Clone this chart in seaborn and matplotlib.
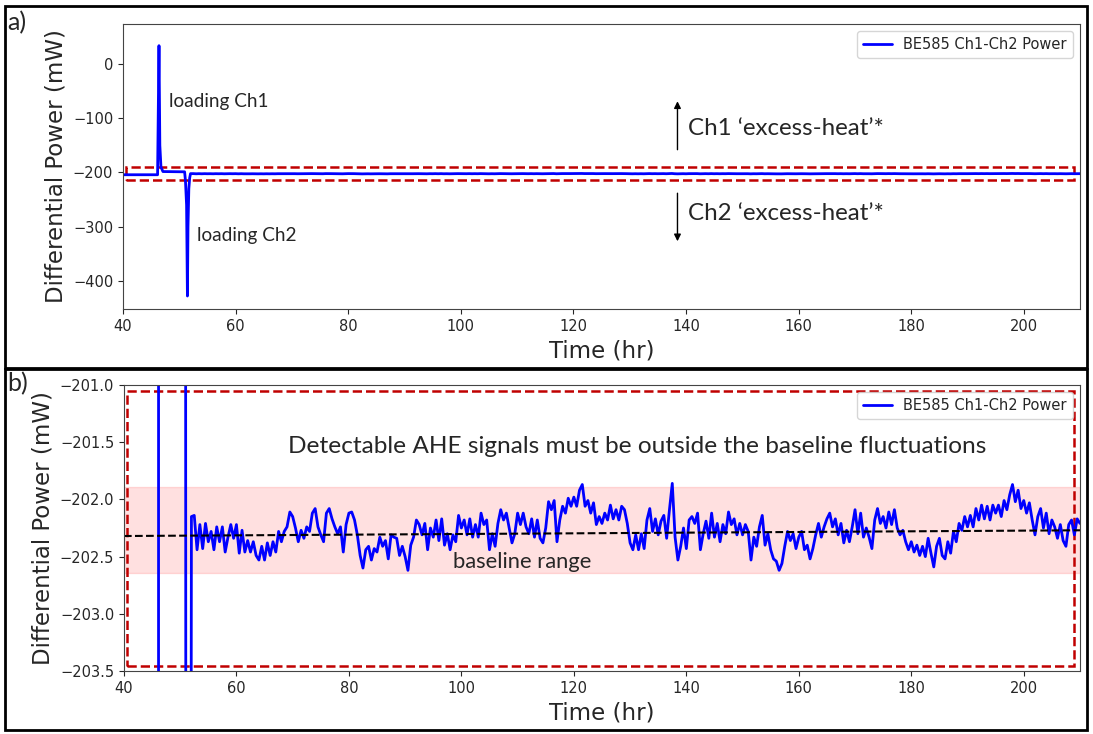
import numpy as np
import pandas as pd
import seaborn as sns
import matplotlib.pyplot as plt
from matplotlib.patches import Rectangle

# start of run: loading spikes (hr, mW)
start_hr = [40.0, 46.15, 46.4, 46.55, 46.75, 47.1, 50.95, 51.1, 51.3, 51.45, 51.55, 51.7, 51.85, 51.95]
start_mw = [-204.2, -204.2, 34.0, -150.0, -190.0, -198.3, -198.8, -215.0, -260.0, -428.0, -300.0, -230.0, -210.0, -204.0]

# baseline trace read every 0.5 hr from 52 hr on
base_start = 52.0
base_step = 0.5
base_mw = [
    -202.15, -202.14, -202.44, -202.22, -202.43, -202.21, -202.37, -202.28, -202.44, -202.24,
    -202.37, -202.24, -202.46, -202.33, -202.22, -202.34, -202.22, -202.47, -202.27, -202.46,
    -202.36, -202.46, -202.37, -202.49, -202.53, -202.41, -202.53, -202.38, -202.49, -202.37,
    -202.46, -202.28, -202.37, -202.28, -202.24, -202.11, -202.15, -202.25, -202.37, -202.27,
    -202.34, -202.24, -202.28, -202.12, -202.08, -202.24, -202.31, -202.37, -202.12, -202.08,
    -202.17, -202.24, -202.30, -202.24, -202.46, -202.22, -202.12, -202.11, -202.18, -202.31,
    -202.49, -202.60, -202.44, -202.41, -202.53, -202.43, -202.46, -202.33, -202.41, -202.36,
    -202.52, -202.31, -202.33, -202.34, -202.49, -202.41, -202.50, -202.62,
    # 91 hr
    -202.40, -202.33, -202.18, -202.22, -202.31, -202.21, -202.44, -202.25, -202.33, -202.18,
    -202.36, -202.17, -202.40, -202.30, -202.44, -202.31, -202.37, -202.14, -202.25, -202.18,
    -202.31, -202.17, -202.33, -202.22, -202.33, -202.12, -202.22, -202.18, -202.44, -202.30,
    -202.41, -202.21, -202.09, -202.18, -202.12, -202.25, -202.38, -202.30, -202.12, -202.22,
    -202.12, -202.24, -202.30, -202.17, -202.33, -202.18, -202.34, -202.38, -202.25, -202.02,
    -202.09, -202.01, -202.37, -202.18, -202.06, -202.12, -201.99, -202.06, -201.98, -202.06,
    -201.92, -201.87, -202.06, -202.01, -202.12, -202.03, -202.22, -202.15, -202.21, -202.12,
    -202.18, -202.05, -202.17, -202.09, -202.18, -202.06,
    # 129 hr
    -202.09, -202.21, -202.38, -202.44, -202.31, -202.44, -202.30, -202.43, -202.18, -202.08,
    -202.28, -202.17, -202.31, -202.19, -202.14, -202.34, -202.09, -201.86, -202.33, -202.53,
    -202.41, -202.25, -202.43, -202.18, -202.15, -202.21, -202.12, -202.44, -202.30, -202.19,
    -202.34, -202.12, -202.33, -202.21, -202.37, -202.22, -202.30, -202.11, -202.22, -202.17,
    -202.31, -202.21, -202.31, -202.22, -202.28, -202.53, -202.33, -202.41, -202.24, -202.14,
    -202.40, -202.30, -202.44, -202.52, -202.54, -202.62, -202.56, -202.41, -202.28, -202.36,
    -202.30, -202.43, -202.33, -202.28, -202.44, -202.40, -202.52, -202.43, -202.31, -202.21,
    -202.33, -202.24, -202.17, -202.12, -202.24, -202.17, -202.31, -202.21,
    # 168 hr
    -202.38, -202.27, -202.37, -202.24, -202.09, -202.30, -202.12, -202.33, -202.25, -202.33,
    -202.43, -202.18, -202.08, -202.21, -202.15, -202.25, -202.11, -202.22, -202.09, -202.25,
    -202.31, -202.27, -202.37, -202.44, -202.37, -202.46, -202.40, -202.49, -202.41, -202.50,
    -202.34, -202.47, -202.59, -202.41, -202.34, -202.49, -202.52, -202.37, -202.47, -202.28,
    -202.37, -202.21, -202.27, -202.15, -202.24, -202.14, -202.24, -202.08, -202.18, -202.05,
    -202.17, -202.06, -202.18, -202.05, -202.12, -202.05, -202.15, -202.01, -202.09, -201.96,
    -201.87, -202.02, -201.92, -202.08, -202.01, -202.12, -202.03, -202.18, -202.31, -202.15,
    -202.08, -202.25, -202.12, -202.30, -202.18, -202.24, -202.34, -202.22, -202.36, -202.41,
    -202.22, -202.18, -202.31, -202.17, -202.21,
]

# baseline band, trend line and zoom boxes
band_lo, band_hi = -202.64, -201.89
trend_hr = [40.0, 210.0]
trend_mw = [-202.32, -202.27]
box_a = (40.6, 208.9, -213.5, -190.8)
box_b = (40.5, 209.0, -203.46, -201.05)

base_hr = base_start + base_step * np.arange(len(base_mw))
df = pd.DataFrame({
    'hr': np.concatenate([start_hr, base_hr]),
    'mw': np.concatenate([start_mw, base_mw]),
})

sns.set_style('ticks')
plt.rcParams['font.family'] = ['DejaVu Sans']
note_font = ['Lato', 'DejaVu Sans']

fig = plt.figure(figsize=(10.93, 7.34), dpi=100)
ax1 = fig.add_axes([0.1125, 0.579, 0.8756, 0.3883])
ax2 = fig.add_axes([0.1134, 0.0858, 0.8747, 0.3897])

lab = 'BE585 Ch1-Ch2 Power'
for ax in (ax1, ax2):
    sns.lineplot(data=df, x='hr', y='mw', ax=ax, color='blue', lw=2,
                 label=lab, estimator=None, sort=False)
    ax.set_xlim(40, 210)
    ax.set_xlabel('Time (hr)', fontsize=16.5, labelpad=4)
    ax.set_ylabel('Differential Power (mW)', fontsize=16.5)
    ax.tick_params(labelsize=10.5)
    for s in ax.spines.values():
        s.set_color('#444444')
    ax.legend(loc='upper right', fontsize=10.5)

ax1.set_ylim(-452, 74)
ax1.set_yticks([0, -100, -200, -300, -400])
x0, x1, y0, y1 = box_a
ax1.add_patch(Rectangle((x0, y0), x1 - x0, y1 - y0, fill=False,
                        ec='#c00000', lw=1.8, ls='--'))
ax1.text(48.2, -69.6, 'loading Ch1', fontsize=13.7, family=note_font, va='center')
ax1.text(53.2, -316.8, 'loading Ch2', fontsize=13.7, family=note_font, va='center')
ax1.annotate('', xy=(138.5, -63.5), xytext=(138.5, -163.1),
             arrowprops=dict(arrowstyle='-|>', color='black', lw=1))
ax1.annotate('', xy=(138.5, -332.1), xytext=(138.5, -233.2),
             arrowprops=dict(arrowstyle='-|>', color='black', lw=1))
ax1.text(140.4, -118.1, 'Ch1 \u2018excess-heat\u2019*', fontsize=17.4, family=note_font, va='center')
ax1.text(140.4, -275.0, 'Ch2 \u2018excess-heat\u2019*', fontsize=17.4, family=note_font, va='center')

ax2.set_ylim(-203.5, -201.0)
ax2.set_yticks([-201.0, -201.5, -202.0, -202.5, -203.0, -203.5])
ax2.axhspan(band_lo, band_hi, fc='red', alpha=0.12, ec='red', lw=1)
sns.lineplot(x=trend_hr, y=trend_mw, ax=ax2, color='black', lw=1.5,
             linestyle='--', estimator=None)
x0, x1, y0, y1 = box_b
ax2.add_patch(Rectangle((x0, y0), x1 - x0, y1 - y0, fill=False,
                        ec='#c00000', lw=1.8, ls='--'))
ax2.text(131.3, -201.54, 'Detectable AHE signals must be outside the baseline fluctuations',
         fontsize=17.6, family=note_font, ha='center', va='center')
ax2.text(98.5, -202.55, 'baseline range', fontsize=15.8, family=note_font, va='center')
ax2.legend(loc='upper right', fontsize=10.5)

# panel frames and letters
W, H = 1093, 734
for top, bot in [(6, 368), (369, 730)]:
    fig.patches.append(Rectangle((5 / W, 1 - bot / H), 1082 / W, (bot - top) / H,
                                 transform=fig.transFigure, fill=False,
                                 ec='black', lw=2))
fig.text(7 / W, 1 - 23 / H, 'a)', fontsize=18, family=note_font, va='center')
fig.text(7 / W, 1 - 384 / H, 'b)', fontsize=18, family=note_font, va='center')

fig.savefig('out.png', dpi=100, facecolor='white')
